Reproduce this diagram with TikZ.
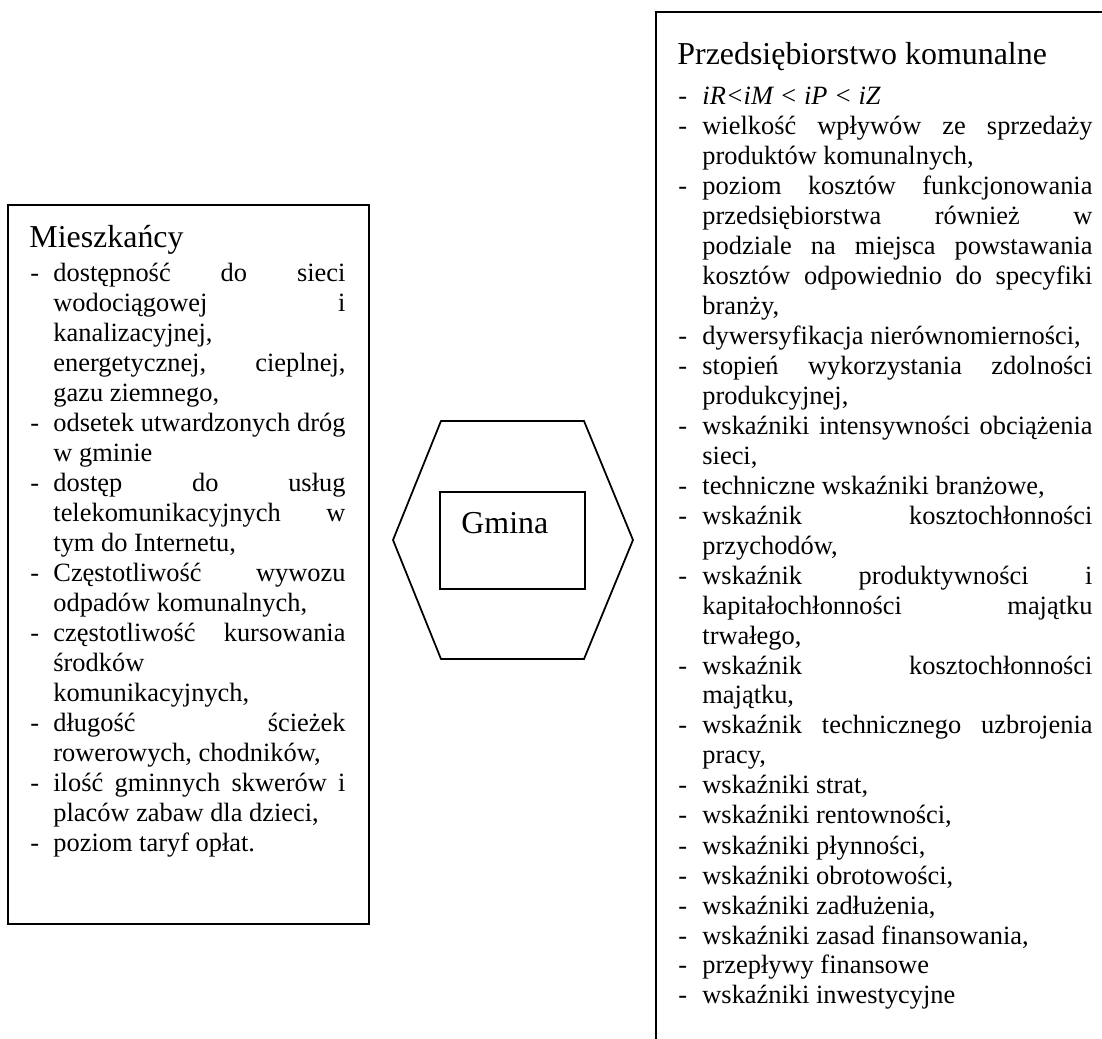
\documentclass[tikz,border=0pt]{standalone}
\usepackage{fontspec}
\setmainfont{Liberation Serif}

% width reserved for the leading dash of each list item
\newlength{\dashw}
% first line of an item: dash, then the text ([s] = justified, [l] = ragged)
\newcommand{\firstln}[2][l]{\noindent\makebox[\dashw][l]{-}\makebox[\dimexpr\linewidth-\dashw\relax][#1]{#2}\par}
% continuation line of an item, hung under the text
\newcommand{\contln}[2][l]{\noindent\hspace*{\dashw}\makebox[\dimexpr\linewidth-\dashw\relax][#1]{#2}\par}
\newcommand{\listsetup}{\fontsize{12pt}{13.635pt}\selectfont\setlength{\parindent}{0pt}\setlength{\parskip}{0pt}\lineskiplimit=-\maxdimen}

\tikzset{
  frame/.style={draw=black, line width=0.8pt},
  hexline/.style={draw=black, line width=0.8pt, line join=miter},
  heading/.style={anchor=base west, inner sep=0pt, font=\fontsize{14.5pt}{17pt}\selectfont},
  listblock/.style={anchor=base west, inner sep=0pt},
}

\begin{document}
\begin{tikzpicture}[x=0.4545pt, y=-0.4545pt]
\useasboundingbox (0,0) rectangle (1102,1039);
\clip (0,0) rectangle (1102,1039);

% residents' box
\node[frame, minimum width=164.07pt, minimum height=326.8pt, inner sep=0pt] (lbox) at (188.5,564.5) {};
\node[heading] (ltitle) at (29,247) {Mieszkańcy};
\node[listblock] (llist) at (30,281) {\parbox[t]{143.2pt}{\listsetup\setlength{\dashw}{10.45pt}%
\firstln[s]{dostępność do sieci}
\contln[s]{wodociągowej i}
\contln{kanalizacyjnej,}
\contln[s]{energetycznej, cieplnej,}
\contln{gazu ziemnego,}
\firstln[s]{odsetek utwardzonych dróg}
\contln{w gminie}
\firstln[s]{dostęp do usług}
\contln[s]{telekomunikacyjnych w}
\contln{tym do Internetu,}
\firstln[s]{Częstotliwość wywozu}
\contln{odpadów komunalnych,}
\firstln[s]{częstotliwość kursowania}
\contln{środków}
\contln{komunikacyjnych,}
\firstln[s]{długość ścieżek}
\contln{rowerowych, chodników,}
\firstln[s]{ilość gminnych skwerów i}
\contln{placów zabaw dla dzieci,}
\firstln{poziom taryf opłat.}
}};

% municipality: hexagon with an inner box
\coordinate (h1) at (441,421);
\coordinate (h2) at (584,421);
\coordinate (h3) at (633,540);
\coordinate (h4) at (584,659);
\coordinate (h5) at (441,659);
\coordinate (h6) at (393,540);
\draw[hexline] (h1) -- (h2) -- (h3) -- (h4) -- (h5) -- (h6) -- cycle;
\node[frame, minimum width=65.9pt, minimum height=44.1pt, inner sep=0pt] (gbox) at (512.5,540.5) {};
\node[heading] (glabel) at (461,533) {Gmina};

% municipal enterprise box, running past the page edge
\coordinate (rtop) at (1120,12);
\coordinate (rcorner) at (656,12);
\coordinate (rbottom) at (656,1060);
\draw[frame] (rtop) -- (rcorner) -- (rbottom);
\node[heading] (rtitle) at (677,64) {Przedsiębiorstwo komunalne};
\node[listblock] (rlist) at (678,104) {\parbox[t]{188.2pt}{\listsetup\setlength{\dashw}{10.9pt}%
\firstln{\textit{iR<iM < iP < iZ}}
\firstln[s]{wielkość wpływów ze sprzedaży}
\contln{produktów komunalnych,}
\firstln[s]{poziom kosztów funkcjonowania}
\contln[s]{przedsiębiorstwa również w}
\contln[s]{podziale na miejsca powstawania}
\contln[s]{kosztów odpowiednio do specyfiki}
\contln{branży,}
\firstln{dywersyfikacja nierównomierności,}
\firstln[s]{stopień wykorzystania zdolności}
\contln{produkcyjnej,}
\firstln[s]{wskaźniki intensywności obciążenia}
\contln{sieci,}
\firstln{techniczne wskaźniki branżowe,}
\firstln[s]{wskaźnik kosztochłonności}
\contln{przychodów,}
\firstln[s]{wskaźnik produktywności i}
\contln[s]{kapitałochłonności majątku}
\contln{trwałego,}
\firstln[s]{wskaźnik kosztochłonności}
\contln{majątku,}
\firstln[s]{wskaźnik technicznego uzbrojenia}
\contln{pracy,}
\firstln{wskaźniki strat,}
\firstln{wskaźniki rentowności,}
\firstln{wskaźniki płynności,}
\firstln{wskaźniki obrotowości,}
\firstln{wskaźniki zadłużenia,}
\firstln{wskaźniki zasad finansowania,}
\firstln{przepływy finansowe}
\firstln{wskaźniki inwestycyjne}
}};
\end{tikzpicture}
\end{document}
